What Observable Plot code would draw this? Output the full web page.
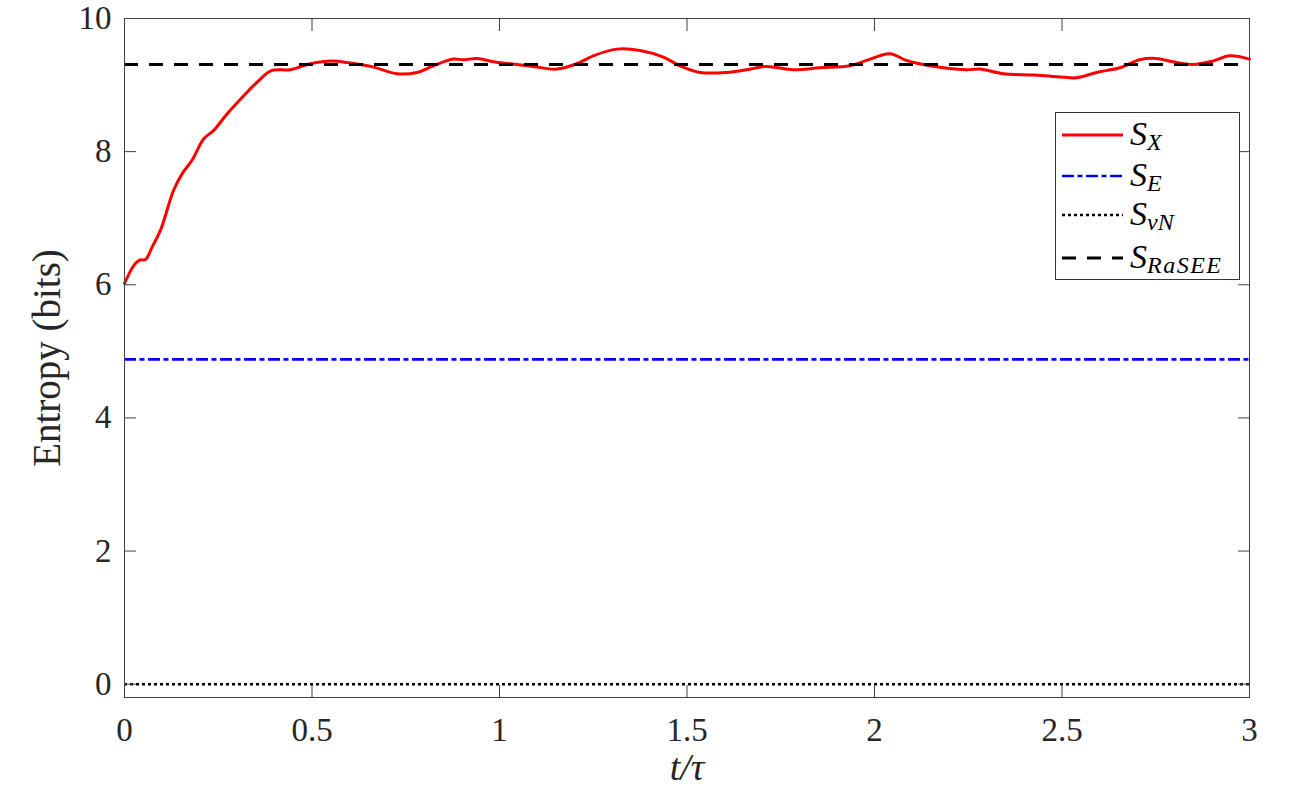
<!DOCTYPE html>
<html><head><meta charset="utf-8">
<script src="https://cdn.jsdelivr.net/npm/d3@7"></script>
<script src="https://cdn.jsdelivr.net/npm/@observablehq/plot@0.6"></script>
<style>
body{margin:0;background:#fff;}
#wrap{position:relative;width:1312px;height:791px;}
#legend{position:absolute;left:1055px;top:112px;}
svg text{font-family:"Liberation Serif","Times New Roman",serif;}
svg [aria-label="x-axis label"]{font-style:italic;font-size:38px;}
svg [aria-label="y-axis label"]{font-size:39px;}
</style></head><body><div id="wrap"></div>
<script>
// time t/τ
const tValues = [0,0.025,0.04,0.056,0.074,0.096,0.131,0.154,0.18,0.211,0.238,0.274,0.318,0.353,0.393,0.442,0.496,0.553,0.602,0.664,0.727,0.78,0.824,0.877,0.904,0.94,0.984,1.028,1.09,1.153,1.206,1.25,1.313,1.375,1.437,1.481,1.535,1.606,1.659,1.712,1.783,1.854,1.934,1.979,2.041,2.085,2.147,2.245,2.281,2.343,2.423,2.476,2.538,2.592,2.654,2.707,2.751,2.796,2.849,2.902,2.947,3.0];
// S_X values (bits)
const sxValues = [6.02,6.29,6.37,6.38,6.57,6.82,7.42,7.67,7.87,8.19,8.32,8.57,8.84,9.04,9.22,9.23,9.32,9.36,9.33,9.27,9.17,9.19,9.29,9.39,9.38,9.40,9.35,9.32,9.28,9.24,9.32,9.44,9.54,9.52,9.42,9.29,9.19,9.19,9.23,9.28,9.23,9.26,9.29,9.37,9.47,9.37,9.29,9.23,9.24,9.17,9.15,9.13,9.11,9.19,9.26,9.38,9.40,9.35,9.31,9.36,9.44,9.39];
const sEValue = 4.88;
const sVNValue = 0;
const sRaSEEValue = 9.31;
const xTicks = [0,0.5,1,1.5,2,2.5,3];
const yTicks = [0,2,4,6,8,10];
const legendSymbols = [["S","X"],["S","E"],["S","vN"],["S","RaSEE"]];

const sxData = tValues.map((t,i)=>({t, s: sxValues[i]}));
const axisColor = "#404040";
const serif = "'Liberation Serif', 'Times New Roman', serif";

const chart = Plot.plot({
  width: 1312, height: 791,
  marginLeft: 124, marginRight: 63, marginTop: 18, marginBottom: 94,
  style: {fontFamily: serif, fontSize: "33px", color: "#262626", background: "white"},
  x: {domain: [0,3]},
  y: {domain: [-0.2,10]},
  marks: [
    Plot.line(sxData, {x:"t", y:"s", stroke:"#ff0000", strokeWidth:3, curve:"catmull-rom"}),
    Plot.ruleY([sEValue], {stroke:"#0000ff", strokeWidth:2.7, strokeDasharray:"12,3.5,5,3.5"}),
    Plot.ruleY([sVNValue], {stroke:"#000", strokeWidth:2.5, strokeDasharray:"3,3"}),
    Plot.ruleY([sRaSEEValue], {stroke:"#000", strokeWidth:3, strokeDasharray:"14,11"}),
    Plot.frame({stroke: axisColor, strokeWidth: 1}),
    Plot.axisY({anchor:"left", ticks:yTicks, tickSize:-12, tickPadding:25, stroke: axisColor, tickFormat: d3.format("~g"),
      label:"Entropy (bits)", labelAnchor:"center", labelOffset:92, labelArrow:"none"}),
    Plot.axisY({anchor:"right", ticks:yTicks, tickSize:-12, stroke: axisColor, tickFormat: ()=>"", label:null}),
    Plot.axisX({anchor:"top", ticks:xTicks, tickSize:-12, stroke: axisColor, tickFormat: ()=>"", label:null}),
    Plot.axisX({anchor:"bottom", ticks:xTicks, tickSize:-12, tickPadding:32, stroke: axisColor, tickFormat: d3.format("~g"),
      label:"t/τ", labelAnchor:"center", labelOffset:82, labelArrow:"none"})
  ]
});
const wrap = document.getElementById("wrap");
wrap.appendChild(chart);

// legend
const lw = 185, lh = 168;
const legendStyles = [
  {stroke:"#ff0000", width:3, dash:null},
  {stroke:"#0000ff", width:2.7, dash:"12,3.5,5,3.5"},
  {stroke:"#000", width:2.5, dash:"3,3"},
  {stroke:"#000", width:3, dash:"14,11"}
];
const rowY = [23,64,103,146];
const leg = d3.create("div").attr("id","legend");
const svg = leg.append("svg").attr("width", lw).attr("height", lh);
svg.append("rect").attr("x",0.5).attr("y",0.5).attr("width",lw-1).attr("height",lh-1)
  .attr("fill","white").attr("stroke","#333").attr("stroke-width",1);
legendSymbols.forEach((sym,i)=>{
  const st = legendStyles[i];
  svg.append("line").attr("x1",7).attr("x2",68).attr("y1",rowY[i]).attr("y2",rowY[i])
    .attr("stroke",st.stroke).attr("stroke-width",st.width).attr("stroke-dasharray",st.dash);
  const tx = svg.append("text").attr("x",75).attr("y",rowY[i]+10).attr("font-style","italic").attr("fill","#000");
  tx.append("tspan").attr("font-size",34).text(sym[0]);
  tx.append("tspan").attr("font-size",24).attr("dy",5).attr("letter-spacing", sym[1].length>2?1.5:0).text(sym[1]);
});
wrap.appendChild(leg.node());
</script>
</body></html>
